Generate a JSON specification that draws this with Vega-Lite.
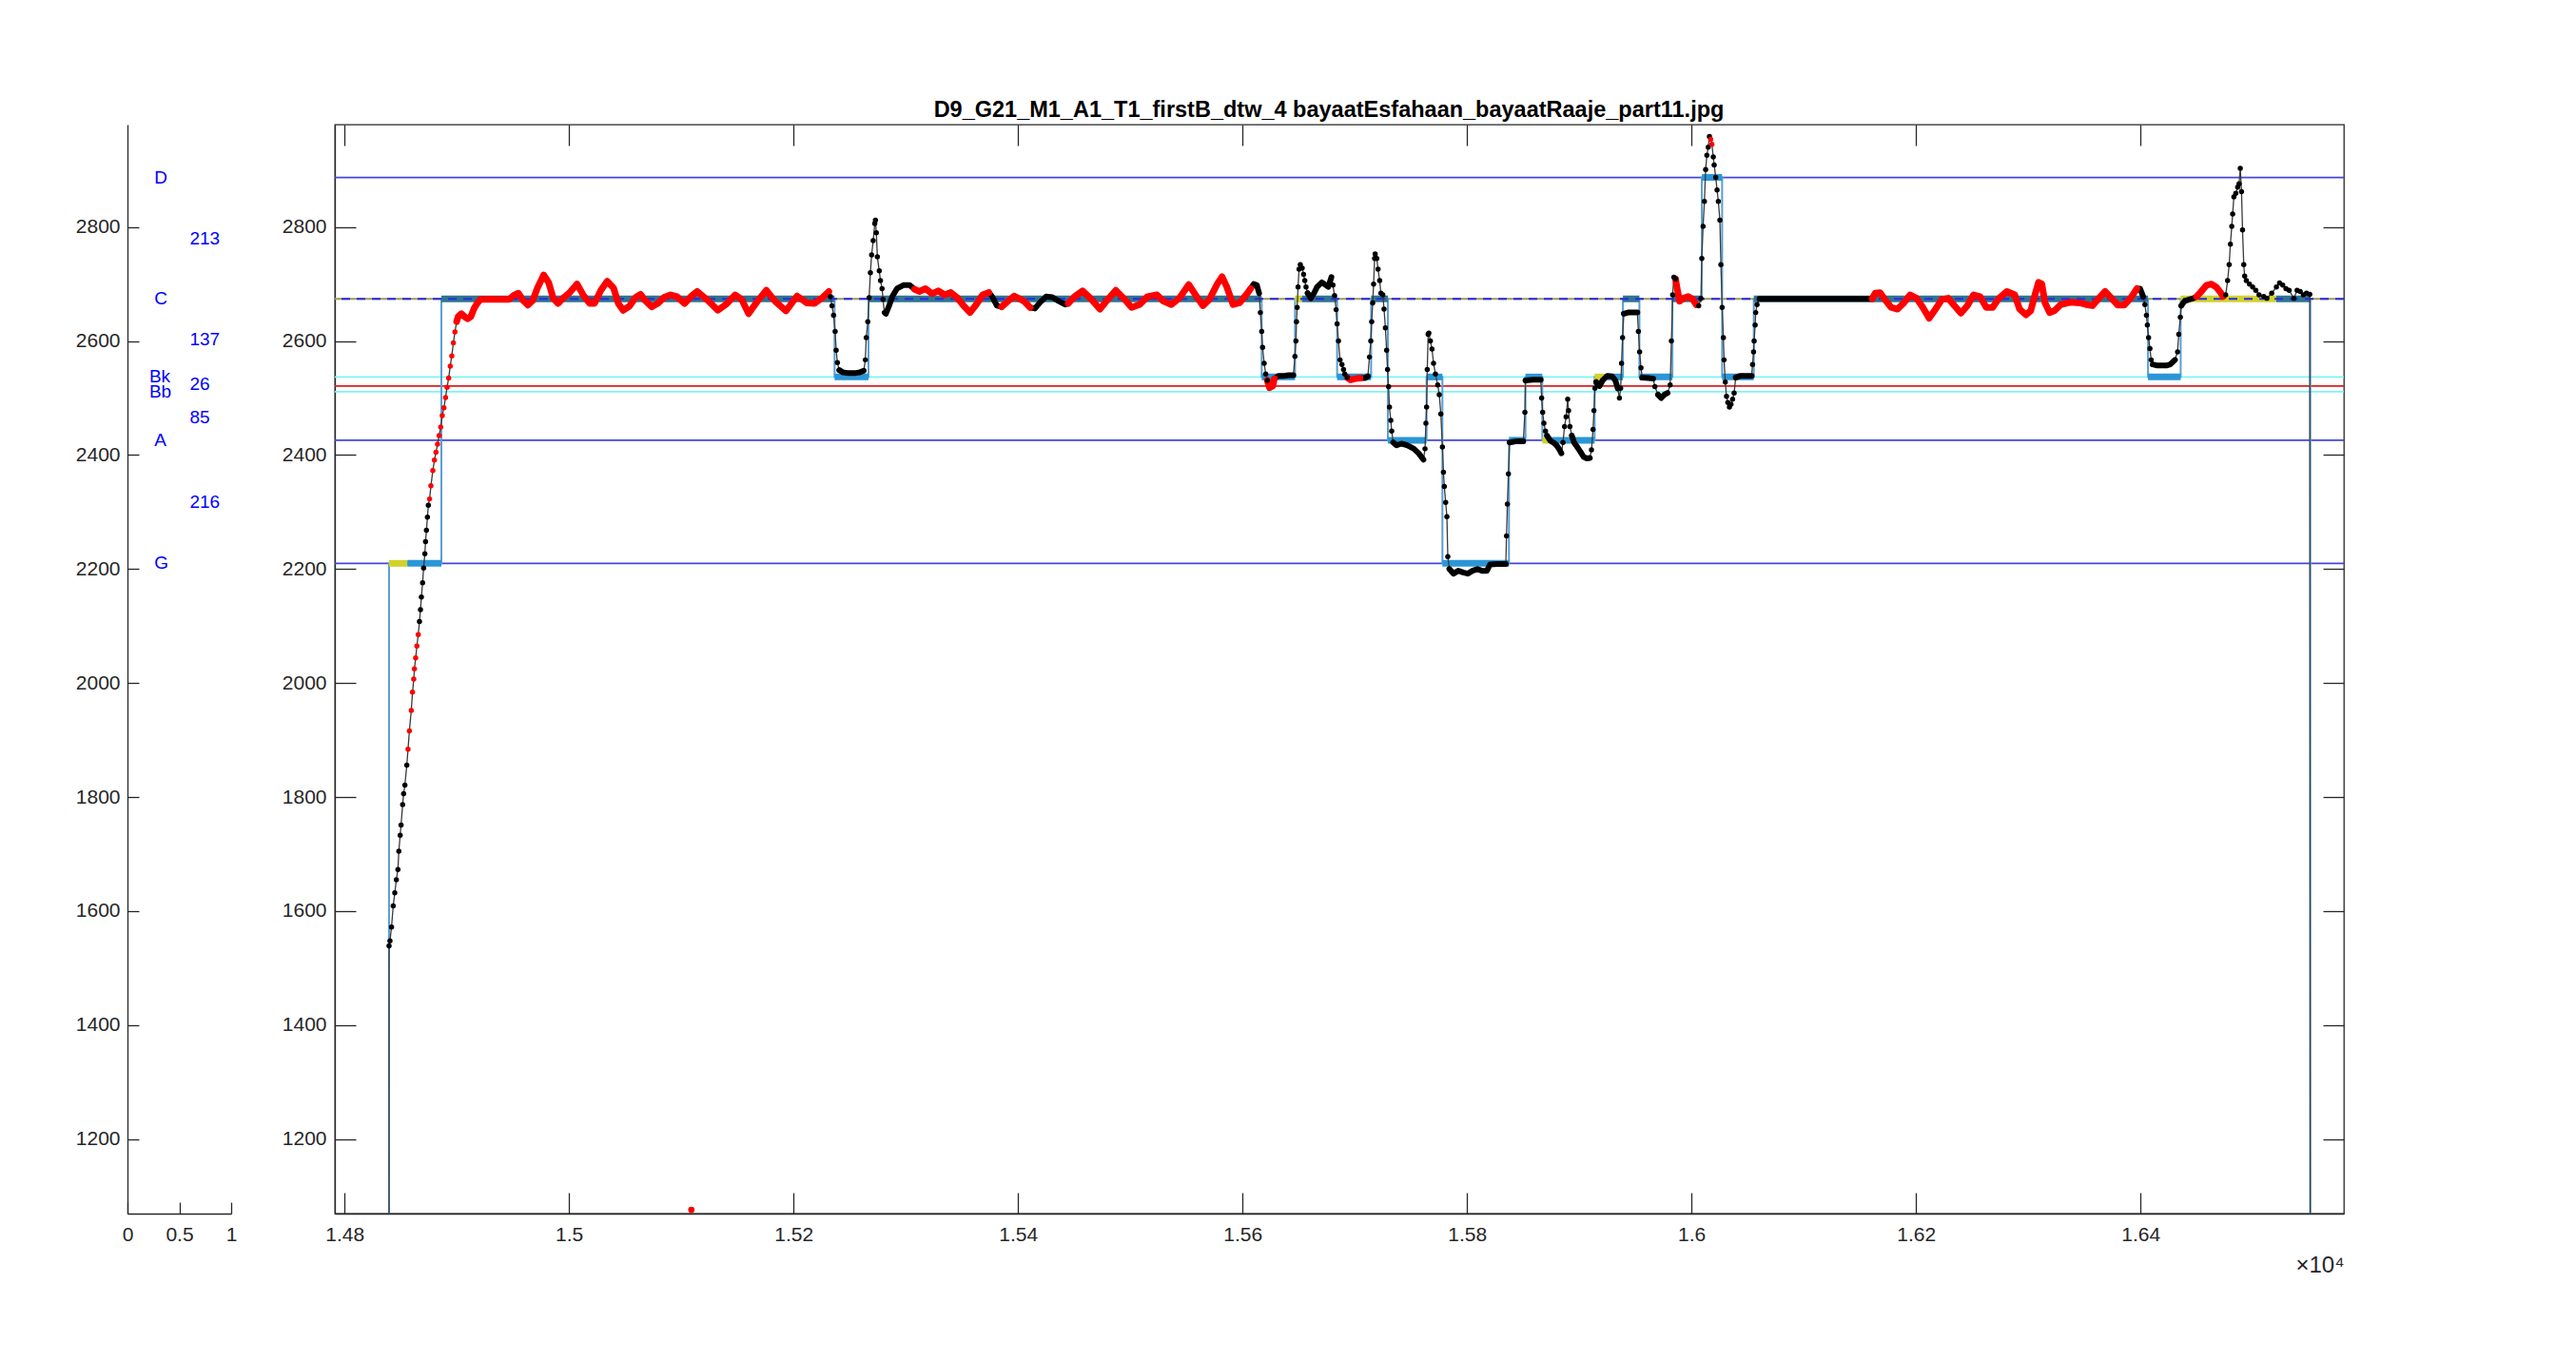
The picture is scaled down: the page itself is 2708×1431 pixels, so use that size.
{
"$schema":"https://vega.github.io/schema/vega-lite/v6.json",
"background":"white",
"padding":{"left":79,"top":103,"right":10,"bottom":10},
"config":{"font":"Liberation Sans","view":{"stroke":null},
"axis":{"labelFontSize":21,"labelColor":"#262626","labelFont":"Liberation Sans","domainColor":"#262626","tickColor":"#262626","domainWidth":1.3,"tickWidth":1.3,"grid":false,"titleFont":"Liberation Sans","titleFontWeight":"normal","titleColor":"#262626","labelFlush":false,"labelOverlap":false}},
"datasets":{
"labels":[{"x":0.26,"f":2887,"label":"D"},{"x":0.26,"f":2674,"label":"C"},{"x":0.21,"f":2537,"label":"Bk"},{"x":0.21,"f":2511,"label":"Bb"},{"x":0.26,"f":2426,"label":"A"},{"x":0.26,"f":2210,"label":"G"},{"x":0.6,"f":2779,"label":"213"},{"x":0.6,"f":2603,"label":"137"},{"x":0.6,"f":2524,"label":"26"},{"x":0.6,"f":2466,"label":"85"},{"x":0.6,"f":2317,"label":"216"}],
"levels":[{"f":2887,"kind":"note"},{"f":2426,"kind":"note"},{"f":2210,"kind":"note"},{"f":2537,"kind":"cyan"},{"f":2511,"kind":"cyan"},{"f":2521,"kind":"red"},{"f":2674,"kind":"olive"}],
"steps":[{"t":14839.6,"f":0},{"t":14839.7,"f":2210},{"t":14886.3,"f":2674},{"t":15236.6,"f":2537},{"t":15266.8,"f":2674},{"t":15617.1,"f":2537},{"t":15646.8,"f":2674},{"t":15684.3,"f":2537},{"t":15714.6,"f":2674},{"t":15729.5,"f":2426},{"t":15764.0,"f":2537},{"t":15778.1,"f":2210},{"t":15837.4,"f":2426},{"t":15852.1,"f":2537},{"t":15867.1,"f":2426},{"t":15913.7,"f":2537},{"t":15938.9,"f":2674},{"t":15953.6,"f":2537},{"t":15983.0,"f":2674},{"t":16009.2,"f":2887},{"t":16027.3,"f":2537},{"t":16055.5,"f":2674},{"t":16406.7,"f":2537},{"t":16435.8,"f":2674},{"t":16551.3,"f":0}],
"notes":[{"t":14839.7,"t2":14856,"f":2210,"kind":"y"},{"t":14856,"t2":14886.3,"f":2210,"kind":"b"},{"t":14886.3,"t2":15236.6,"f":2674,"kind":"c"},{"t":15236.6,"t2":15266.8,"f":2537,"kind":"b"},{"t":15266.8,"t2":15617.1,"f":2674,"kind":"c"},{"t":15617.1,"t2":15646.8,"f":2537,"kind":"b"},{"t":15646.8,"t2":15653,"f":2674,"kind":"y"},{"t":15653,"t2":15684.3,"f":2674,"kind":"c"},{"t":15684.3,"t2":15714.6,"f":2537,"kind":"b"},{"t":15714.6,"t2":15729.5,"f":2674,"kind":"c"},{"t":15729.5,"t2":15764.0,"f":2426,"kind":"b"},{"t":15764.0,"t2":15778.1,"f":2537,"kind":"b"},{"t":15778.1,"t2":15837.4,"f":2210,"kind":"b"},{"t":15837.4,"t2":15852.1,"f":2426,"kind":"b"},{"t":15852.1,"t2":15867.1,"f":2537,"kind":"b"},{"t":15867.1,"t2":15874,"f":2426,"kind":"y"},{"t":15874,"t2":15913.7,"f":2426,"kind":"b"},{"t":15913.7,"t2":15925,"f":2537,"kind":"y"},{"t":15925,"t2":15938.9,"f":2537,"kind":"b"},{"t":15938.9,"t2":15953.6,"f":2674,"kind":"c"},{"t":15953.6,"t2":15983.0,"f":2537,"kind":"b"},{"t":15983.0,"t2":16009.2,"f":2674,"kind":"c"},{"t":16009.2,"t2":16027.3,"f":2887,"kind":"b"},{"t":16027.3,"t2":16055.5,"f":2537,"kind":"b"},{"t":16055.5,"t2":16406.7,"f":2674,"kind":"c"},{"t":16406.7,"t2":16435.8,"f":2537,"kind":"b"},{"t":16435.8,"t2":16521,"f":2674,"kind":"y"},{"t":16521,"t2":16551.3,"f":2674,"kind":"c"}],
"pitch":[
{"t":14839.6,"f":0,"c":"x"},
{"t":14839.7,"f":1539,"c":"k"},{"t":14840.5,"f":1548,"c":"k"},{"t":14841.9,"f":1572,"c":"k"},{"t":14843.4,"f":1609,"c":"k"},{"t":14844.8,"f":1632,"c":"k"},{"t":14846.2,"f":1655,"c":"k"},{"t":14847.6,"f":1673,"c":"k"},{"t":14848.4,"f":1705,"c":"k"},{"t":14849.6,"f":1733,"c":"k"},{"t":14850.4,"f":1751,"c":"k"},{"t":14851.8,"f":1787,"c":"k"},{"t":14852.7,"f":1806,"c":"k"},{"t":14853.8,"f":1821,"c":"k"},{"t":14855.5,"f":1856,"c":"k"},
{"t":14856.6,"f":1884,"c":"r"},{"t":14857.8,"f":1916,"c":"r"},{"t":14859.5,"f":1952,"c":"r"},{"t":14860.6,"f":1984,"c":"r"},{"t":14861.7,"f":2007,"c":"r"},{"t":14862.3,"f":2025,"c":"r"},{"t":14863.4,"f":2044,"c":"r"},{"t":14864.5,"f":2065,"c":"r"},{"t":14865.7,"f":2085,"c":"r"},
{"t":14866.8,"f":2108,"c":"k"},{"t":14867.7,"f":2129,"c":"k"},{"t":14868.5,"f":2151,"c":"k"},{"t":14869.6,"f":2176,"c":"k"},{"t":14870.5,"f":2202,"c":"k"},{"t":14871.6,"f":2227,"c":"k"},{"t":14872.2,"f":2248,"c":"k"},{"t":14873.0,"f":2268,"c":"k"},{"t":14873.9,"f":2291,"c":"k"},{"t":14874.7,"f":2312,"c":"k"},
{"t":14875.8,"f":2323,"c":"r"},{"t":14877.0,"f":2346,"c":"r"},{"t":14878.7,"f":2373,"c":"r"},{"t":14880.1,"f":2391,"c":"r"},{"t":14881.5,"f":2405,"c":"r"},{"t":14882.9,"f":2419,"c":"r"},{"t":14884.3,"f":2434,"c":"r"},{"t":14885.7,"f":2449,"c":"r"},{"t":14887.1,"f":2469,"c":"r"},{"t":14888.6,"f":2483,"c":"r"},{"t":14890.0,"f":2501,"c":"r"},{"t":14891.4,"f":2519,"c":"r"},{"t":14892.8,"f":2535,"c":"r"},{"t":14894.2,"f":2556,"c":"r"},{"t":14895.6,"f":2574,"c":"r"},{"t":14897.0,"f":2597,"c":"r"},{"t":14898.4,"f":2616,"c":"r"},
{"t":14899.9,"f":2634,"c":"v","s":1},{"t":14901.3,"f":2643,"c":"v","s":1},{"t":14904.1,"f":2648,"c":"v","s":1},{"t":14906.9,"f":2643,"c":"v","s":1},{"t":14909.7,"f":2639,"c":"v","s":1},{"t":14912.6,"f":2643,"c":"v","s":1},{"t":14915.4,"f":2657,"c":"v","s":1},{"t":14918.2,"f":2666,"c":"v","s":1},{"t":14921.0,"f":2673,"c":"v","s":1},{"t":14934.0,"f":2673,"c":"v","s":1},{"t":14946.5,"f":2673,"c":"v","s":1},{"t":14950.7,"f":2680,"c":"v","s":1},{"t":14954.9,"f":2684,"c":"v","s":1},{"t":14959.2,"f":2671,"c":"v","s":1},{"t":14963.4,"f":2663,"c":"v","s":1},{"t":14967.7,"f":2671,"c":"v","s":1},{"t":14971.9,"f":2693,"c":"v","s":1},{"t":14977.5,"f":2716,"c":"v","s":1},{"t":14981.8,"f":2703,"c":"v","s":1},{"t":14986.0,"f":2675,"c":"v","s":1},{"t":14990.3,"f":2666,"c":"v","s":1},{"t":14994.5,"f":2675,"c":"v","s":1},{"t":15000.1,"f":2684,"c":"v","s":1},{"t":15007.2,"f":2700,"c":"v","s":1},{"t":15012.9,"f":2680,"c":"v","s":1},{"t":15018.5,"f":2666,"c":"v","s":1},{"t":15022.7,"f":2666,"c":"v","s":1},{"t":15028.4,"f":2689,"c":"v","s":1},{"t":15034.0,"f":2705,"c":"v","s":1},{"t":15039.7,"f":2693,"c":"v","s":1},{"t":15043.9,"f":2666,"c":"v","s":1},{"t":15048.2,"f":2654,"c":"v","s":1},{"t":15053.8,"f":2661,"c":"v","s":1},{"t":15059.5,"f":2677,"c":"v","s":1},{"t":15063.7,"f":2682,"c":"v","s":1},{"t":15067.9,"f":2671,"c":"v","s":1},{"t":15073.6,"f":2660,"c":"v","s":1},{"t":15079.2,"f":2666,"c":"v","s":1},{"t":15084.9,"f":2677,"c":"v","s":1},{"t":15090.5,"f":2681,"c":"v","s":1},{"t":15096.2,"f":2678,"c":"v","s":1},{"t":15103.0,"f":2666,"c":"v","s":1},{"t":15108.6,"f":2678,"c":"v","s":1},{"t":15114.2,"f":2687,"c":"v","s":1},{"t":15122.7,"f":2673,"c":"v","s":1},{"t":15132.6,"f":2654,"c":"v","s":1},{"t":15139.7,"f":2664,"c":"v","s":1},{"t":15148.1,"f":2681,"c":"v","s":1},{"t":15153.8,"f":2673,"c":"v","s":1},{"t":15160.0,"f":2648,"c":"v","s":1},{"t":15167.9,"f":2670,"c":"v","s":1},{"t":15175.8,"f":2689,"c":"v","s":1},{"t":15183.5,"f":2670,"c":"v","s":1},{"t":15193.3,"f":2653,"c":"v","s":1},{"t":15203.2,"f":2679,"c":"v","s":1},{"t":15211.7,"f":2667,"c":"v","s":1},{"t":15218.8,"f":2666,"c":"v","s":1},{"t":15225.8,"f":2676,"c":"v","s":1},{"t":15231.5,"f":2687,"c":"v","s":1},
{"t":15232.9,"f":2678,"c":"k"},{"t":15234.3,"f":2662,"c":"k"},{"t":15235.7,"f":2645,"c":"k"},{"t":15237.1,"f":2617,"c":"k"},{"t":15238.0,"f":2584,"c":"k"},{"t":15239.1,"f":2562,"c":"k"},{"t":15240.8,"f":2549,"c":"k"},
{"t":15240.8,"f":2549,"c":"b","s":2},{"t":15244.2,"f":2545,"c":"b","s":2},{"t":15248.0,"f":2544,"c":"b","s":2},{"t":15252.0,"f":2544,"c":"b","s":2},{"t":15255.5,"f":2544,"c":"b","s":2},{"t":15259.0,"f":2545,"c":"b","s":2},{"t":15262.6,"f":2548,"c":"b","s":2},
{"t":15264.0,"f":2567,"c":"k"},{"t":15264.8,"f":2606,"c":"k"},{"t":15266.2,"f":2634,"c":"k"},{"t":15267.4,"f":2676,"c":"k"},{"t":15268.5,"f":2720,"c":"k"},{"t":15269.6,"f":2751,"c":"k"},{"t":15271.0,"f":2776,"c":"k"},{"t":15272.4,"f":2806,"c":"k"},{"t":15273.0,"f":2812,"c":"k"},{"t":15273.8,"f":2790,"c":"k"},{"t":15274.7,"f":2748,"c":"k"},{"t":15276.4,"f":2723,"c":"k"},{"t":15277.5,"f":2706,"c":"k"},{"t":15278.9,"f":2692,"c":"k"},{"t":15279.8,"f":2673,"c":"k"},{"t":15280.9,"f":2650,"c":"k"},{"t":15282.3,"f":2648,"c":"k"},
{"t":15282.3,"f":2648,"c":"b","s":3},{"t":15285.2,"f":2662,"c":"b","s":3},{"t":15288.0,"f":2678,"c":"b","s":3},{"t":15292.2,"f":2692,"c":"b","s":3},{"t":15297.9,"f":2698,"c":"b","s":3},{"t":15303.5,"f":2698,"c":"b","s":3},{"t":15307.8,"f":2691,"c":"b","s":3},
{"t":15307.8,"f":2691,"c":"v","s":4},{"t":15312.0,"f":2687,"c":"v","s":4},{"t":15317.6,"f":2692,"c":"v","s":4},{"t":15323.3,"f":2683,"c":"v","s":4},{"t":15328.9,"f":2688,"c":"v","s":4},{"t":15334.6,"f":2681,"c":"v","s":4},{"t":15340.2,"f":2685,"c":"v","s":4},{"t":15345.9,"f":2676,"c":"v","s":4},{"t":15351.5,"f":2662,"c":"v","s":4},{"t":15357.2,"f":2650,"c":"v","s":4},{"t":15362.8,"f":2664,"c":"v","s":4},{"t":15368.5,"f":2681,"c":"v","s":4},{"t":15374.1,"f":2685,"c":"v","s":4},
{"t":15374.1,"f":2685,"c":"b","s":5},{"t":15377.0,"f":2678,"c":"b","s":5},{"t":15381.2,"f":2662,"c":"b","s":5},{"t":15385.4,"f":2660,"c":"b","s":5},
{"t":15385.4,"f":2660,"c":"v","s":6},{"t":15391.1,"f":2670,"c":"v","s":6},{"t":15396.7,"f":2679,"c":"v","s":6},{"t":15405.2,"f":2670,"c":"v","s":6},{"t":15410.8,"f":2659,"c":"v","s":6},
{"t":15410.8,"f":2659,"c":"b","s":7},{"t":15415.1,"f":2657,"c":"b","s":7},{"t":15419.3,"f":2667,"c":"b","s":7},{"t":15425.0,"f":2678,"c":"b","s":7},{"t":15430.6,"f":2677,"c":"b","s":7},{"t":15436.3,"f":2670,"c":"b","s":7},{"t":15441.9,"f":2664,"c":"b","s":7},{"t":15444.7,"f":2666,"c":"b","s":7},
{"t":15444.7,"f":2666,"c":"v","s":8},{"t":15450.4,"f":2678,"c":"v","s":8},{"t":15457.5,"f":2688,"c":"v","s":8},{"t":15464.5,"f":2675,"c":"v","s":8},{"t":15473.0,"f":2656,"c":"v","s":8},{"t":15480.1,"f":2673,"c":"v","s":8},{"t":15487.1,"f":2689,"c":"v","s":8},{"t":15494.2,"f":2675,"c":"v","s":8},{"t":15501.2,"f":2659,"c":"v","s":8},{"t":15508.3,"f":2664,"c":"v","s":8},{"t":15515.4,"f":2678,"c":"v","s":8},{"t":15523.8,"f":2681,"c":"v","s":8},{"t":15529.5,"f":2670,"c":"v","s":8},{"t":15536.6,"f":2664,"c":"v","s":8},{"t":15543.6,"f":2675,"c":"v","s":8},{"t":15552.1,"f":2699,"c":"v","s":8},{"t":15559.2,"f":2678,"c":"v","s":8},{"t":15564.8,"f":2662,"c":"v","s":8},{"t":15570.5,"f":2673,"c":"v","s":8},{"t":15577.5,"f":2700,"c":"v","s":8},{"t":15581.8,"f":2713,"c":"v","s":8},{"t":15586.0,"f":2695,"c":"v","s":8},{"t":15591.6,"f":2664,"c":"v","s":8},{"t":15597.3,"f":2667,"c":"v","s":8},{"t":15604.4,"f":2684,"c":"v","s":8},{"t":15607.2,"f":2692,"c":"v","s":8},
{"t":15607.2,"f":2692,"c":"b","s":9},{"t":15610.0,"f":2700,"c":"b","s":9},{"t":15612.8,"f":2698,"c":"b","s":9},{"t":15614.8,"f":2684,"c":"b","s":9},
{"t":15615.9,"f":2650,"c":"k"},{"t":15617.1,"f":2617,"c":"k"},{"t":15617.9,"f":2589,"c":"k"},{"t":15619.3,"f":2561,"c":"k"},{"t":15620.7,"f":2542,"c":"k"},{"t":15622.1,"f":2531,"c":"k"},
{"t":15622.1,"f":2531,"c":"v","s":10},{"t":15624.1,"f":2518,"c":"v","s":10},{"t":15626.9,"f":2521,"c":"v","s":10},{"t":15628.4,"f":2534,"c":"v","s":10},
{"t":15628.4,"f":2534,"c":"b","s":11},{"t":15632.0,"f":2539,"c":"b","s":11},{"t":15636.8,"f":2539,"c":"b","s":11},{"t":15641.0,"f":2540,"c":"b","s":11},{"t":15645.3,"f":2540,"c":"b","s":11},
{"t":15646.7,"f":2573,"c":"k"},{"t":15647.6,"f":2600,"c":"k"},{"t":15648.1,"f":2634,"c":"k"},{"t":15648.7,"f":2659,"c":"k"},{"t":15649.5,"f":2695,"c":"k"},{"t":15650.4,"f":2726,"c":"k"},{"t":15651.5,"f":2734,"c":"k"},{"t":15653.2,"f":2728,"c":"k"},{"t":15654.4,"f":2717,"c":"k"},{"t":15655.5,"f":2706,"c":"k"},{"t":15656.6,"f":2695,"c":"k"},{"t":15658.0,"f":2684,"c":"k"},
{"t":15658.0,"f":2684,"c":"b","s":12},{"t":15660.9,"f":2675,"c":"b","s":12},{"t":15663.7,"f":2684,"c":"b","s":12},{"t":15666.5,"f":2695,"c":"b","s":12},{"t":15670.7,"f":2703,"c":"b","s":12},{"t":15676.4,"f":2695,"c":"b","s":12},{"t":15679.2,"f":2712,"c":"b","s":12},
{"t":15680.6,"f":2698,"c":"k"},{"t":15682.0,"f":2680,"c":"k"},{"t":15683.4,"f":2655,"c":"k"},{"t":15684.3,"f":2630,"c":"k"},{"t":15685.5,"f":2600,"c":"k"},{"t":15686.9,"f":2567,"c":"k"},{"t":15688.6,"f":2559,"c":"k"},{"t":15690.0,"f":2550,"c":"k"},{"t":15691.1,"f":2542,"c":"k"},{"t":15693.4,"f":2536,"c":"k"},
{"t":15693.4,"f":2536,"c":"v","s":13},{"t":15696.2,"f":2532,"c":"v","s":13},{"t":15700.4,"f":2534,"c":"v","s":13},{"t":15704.7,"f":2535,"c":"v","s":13},
{"t":15704.7,"f":2535,"c":"b","s":14},{"t":15708.9,"f":2535,"c":"b","s":14},{"t":15711.7,"f":2538,"c":"b","s":14},
{"t":15713.1,"f":2572,"c":"k"},{"t":15714.3,"f":2600,"c":"k"},{"t":15715.1,"f":2634,"c":"k"},{"t":15716.0,"f":2667,"c":"k"},{"t":15716.8,"f":2700,"c":"k"},{"t":15717.7,"f":2745,"c":"k"},{"t":15718.2,"f":2753,"c":"k"},{"t":15719.6,"f":2745,"c":"k"},{"t":15720.8,"f":2726,"c":"k"},{"t":15722.2,"f":2706,"c":"k"},{"t":15723.3,"f":2684,"c":"k"},{"t":15725.0,"f":2681,"c":"k"},{"t":15726.1,"f":2656,"c":"k"},{"t":15727.3,"f":2623,"c":"k"},{"t":15728.4,"f":2584,"c":"k"},{"t":15729.2,"f":2550,"c":"k"},{"t":15730.1,"f":2520,"c":"k"},{"t":15730.9,"f":2484,"c":"k"},{"t":15732.1,"f":2461,"c":"k"},{"t":15732.9,"f":2442,"c":"k"},{"t":15734.3,"f":2422,"c":"k"},
{"t":15734.3,"f":2422,"c":"b","s":15},{"t":15737.2,"f":2417,"c":"b","s":15},{"t":15741.4,"f":2420,"c":"b","s":15},{"t":15747.1,"f":2417,"c":"b","s":15},{"t":15752.7,"f":2411,"c":"b","s":15},{"t":15757.0,"f":2403,"c":"b","s":15},{"t":15761.2,"f":2392,"c":"b","s":15},
{"t":15762.6,"f":2411,"c":"k"},{"t":15763.4,"f":2456,"c":"k"},{"t":15764.0,"f":2484,"c":"k"},{"t":15764.6,"f":2550,"c":"k"},{"t":15765.4,"f":2612,"c":"k"},{"t":15766.0,"f":2614,"c":"k"},{"t":15767.4,"f":2600,"c":"k"},{"t":15768.8,"f":2586,"c":"k"},{"t":15770.2,"f":2561,"c":"k"},{"t":15771.9,"f":2542,"c":"k"},{"t":15773.9,"f":2523,"c":"k"},{"t":15775.3,"f":2506,"c":"k"},{"t":15776.7,"f":2472,"c":"k"},{"t":15778.1,"f":2414,"c":"k"},{"t":15779.0,"f":2370,"c":"k"},{"t":15779.8,"f":2345,"c":"k"},{"t":15781.0,"f":2317,"c":"k"},{"t":15782.1,"f":2292,"c":"k"},{"t":15782.9,"f":2222,"c":"k"},{"t":15784.3,"f":2200,"c":"k"},
{"t":15784.3,"f":2200,"c":"b","s":16},{"t":15788.0,"f":2192,"c":"b","s":16},{"t":15792.2,"f":2197,"c":"b","s":16},{"t":15796.5,"f":2194,"c":"b","s":16},{"t":15800.7,"f":2192,"c":"b","s":16},{"t":15804.9,"f":2197,"c":"b","s":16},{"t":15809.2,"f":2200,"c":"b","s":16},{"t":15813.4,"f":2197,"c":"b","s":16},{"t":15817.7,"f":2197,"c":"b","s":16},{"t":15820.5,"f":2208,"c":"b","s":16},{"t":15827.0,"f":2209,"c":"b","s":16},{"t":15834.6,"f":2209,"c":"b","s":16},
{"t":15835.2,"f":2258,"c":"k"},{"t":15836.0,"f":2314,"c":"k"},{"t":15836.9,"f":2367,"c":"k"},{"t":15838.0,"f":2422,"c":"k"},
{"t":15838.0,"f":2422,"c":"b","s":17},{"t":15843.1,"f":2424,"c":"b","s":17},{"t":15850.2,"f":2424,"c":"b","s":17},
{"t":15851.6,"f":2475,"c":"k"},{"t":15852.1,"f":2531,"c":"k"},
{"t":15852.1,"f":2531,"c":"b","s":18},{"t":15858.6,"f":2532,"c":"b","s":18},{"t":15865.7,"f":2532,"c":"b","s":18},
{"t":15866.5,"f":2500,"c":"k"},{"t":15867.4,"f":2475,"c":"k"},{"t":15868.5,"f":2456,"c":"k"},{"t":15869.9,"f":2442,"c":"k"},{"t":15871.3,"f":2434,"c":"k"},
{"t":15871.3,"f":2434,"c":"b","s":19},{"t":15874.2,"f":2425,"c":"b","s":19},{"t":15877.0,"f":2422,"c":"b","s":19},{"t":15879.8,"f":2417,"c":"b","s":19},{"t":15882.6,"f":2409,"c":"b","s":19},{"t":15884.1,"f":2403,"c":"b","s":19},
{"t":15885.5,"f":2422,"c":"k"},{"t":15886.9,"f":2450,"c":"k"},{"t":15888.3,"f":2467,"c":"k"},{"t":15889.7,"f":2498,"c":"k"},{"t":15890.5,"f":2478,"c":"k"},{"t":15891.7,"f":2450,"c":"k"},{"t":15893.4,"f":2434,"c":"k"},
{"t":15893.4,"f":2434,"c":"b","s":20},{"t":15895.4,"f":2422,"c":"b","s":20},{"t":15898.2,"f":2414,"c":"b","s":20},{"t":15901.0,"f":2406,"c":"b","s":20},{"t":15903.8,"f":2397,"c":"b","s":20},{"t":15906.7,"f":2394,"c":"b","s":20},{"t":15909.5,"f":2395,"c":"b","s":20},
{"t":15910.9,"f":2409,"c":"k"},{"t":15912.3,"f":2445,"c":"k"},{"t":15913.1,"f":2478,"c":"k"},{"t":15914.0,"f":2517,"c":"k"},{"t":15915.1,"f":2528,"c":"k"},
{"t":15915.1,"f":2528,"c":"b","s":21},{"t":15918.0,"f":2521,"c":"b","s":21},{"t":15920.8,"f":2531,"c":"b","s":21},{"t":15925.0,"f":2539,"c":"b","s":21},{"t":15929.3,"f":2538,"c":"b","s":21},{"t":15932.1,"f":2531,"c":"b","s":21},{"t":15934.3,"f":2517,"c":"b","s":21},
{"t":15935.8,"f":2500,"c":"k"},{"t":15936.9,"f":2517,"c":"k"},{"t":15937.7,"f":2561,"c":"k"},{"t":15938.6,"f":2606,"c":"k"},{"t":15939.7,"f":2648,"c":"k"},
{"t":15939.7,"f":2648,"c":"b","s":22},{"t":15943.4,"f":2650,"c":"b","s":22},{"t":15947.6,"f":2650,"c":"b","s":22},{"t":15951.8,"f":2650,"c":"b","s":22},
{"t":15952.7,"f":2617,"c":"k"},{"t":15953.8,"f":2581,"c":"k"},{"t":15955.0,"f":2553,"c":"k"},{"t":15956.1,"f":2536,"c":"k"},
{"t":15956.1,"f":2536,"c":"b","s":23},{"t":15961.7,"f":2535,"c":"b","s":23},{"t":15965.9,"f":2534,"c":"b","s":23},
{"t":15967.4,"f":2520,"c":"k"},{"t":15970.2,"f":2506,"c":"k"},
{"t":15970.2,"f":2506,"c":"b","s":24},{"t":15973.0,"f":2500,"c":"b","s":24},{"t":15975.9,"f":2506,"c":"b","s":24},{"t":15978.7,"f":2509,"c":"b","s":24},
{"t":15981.0,"f":2523,"c":"k"},{"t":15982.1,"f":2600,"c":"k"},{"t":15983.2,"f":2681,"c":"k"},{"t":15984.3,"f":2712,"c":"k"},{"t":15985.8,"f":2709,"c":"k"},
{"t":15985.8,"f":2709,"c":"v","s":25},{"t":15987.2,"f":2692,"c":"v","s":25},{"t":15989.4,"f":2670,"c":"v","s":25},{"t":15992.8,"f":2675,"c":"v","s":25},{"t":15997.1,"f":2678,"c":"v","s":25},{"t":16001.3,"f":2673,"c":"v","s":25},{"t":16004.1,"f":2664,"c":"v","s":25},
{"t":16006.4,"f":2662,"c":"k"},{"t":16008.4,"f":2675,"c":"k"},{"t":16009.2,"f":2745,"c":"k"},{"t":16010.3,"f":2801,"c":"k"},{"t":16011.5,"f":2845,"c":"k"},{"t":16012.6,"f":2901,"c":"k"},{"t":16013.7,"f":2926,"c":"k"},{"t":16014.9,"f":2940,"c":"k"},{"t":16016.0,"f":2959,"c":"k"},
{"t":16017.1,"f":2954,"c":"r"},{"t":16018.2,"f":2945,"c":"r"},
{"t":16019.4,"f":2923,"c":"k"},{"t":16020.2,"f":2909,"c":"k"},{"t":16021.6,"f":2887,"c":"k"},{"t":16022.8,"f":2865,"c":"k"},{"t":16023.9,"f":2845,"c":"k"},{"t":16025.3,"f":2812,"c":"k"},{"t":16026.2,"f":2734,"c":"k"},{"t":16027.3,"f":2659,"c":"k"},{"t":16028.4,"f":2606,"c":"k"},{"t":16029.0,"f":2567,"c":"k"},{"t":16030.1,"f":2528,"c":"k"},{"t":16031.2,"f":2503,"c":"k"},{"t":16032.4,"f":2492,"c":"k"},{"t":16033.8,"f":2484,"c":"k"},{"t":16035.2,"f":2489,"c":"k"},{"t":16036.6,"f":2498,"c":"k"},{"t":16038.0,"f":2509,"c":"k"},{"t":16039.4,"f":2536,"c":"k"},
{"t":16039.4,"f":2536,"c":"b","s":26},{"t":16043.7,"f":2539,"c":"b","s":26},{"t":16049.3,"f":2539,"c":"b","s":26},{"t":16053.6,"f":2539,"c":"b","s":26},
{"t":16054.4,"f":2559,"c":"k"},{"t":16055.3,"f":2581,"c":"k"},{"t":16055.8,"f":2600,"c":"k"},{"t":16056.7,"f":2628,"c":"k"},{"t":16057.2,"f":2650,"c":"k"},{"t":16058.4,"f":2664,"c":"k"},{"t":16060.6,"f":2674,"c":"k"},
{"t":16060.6,"f":2674,"c":"b","s":27},{"t":16110.0,"f":2674,"c":"b","s":27},{"t":16160.9,"f":2674,"c":"b","s":27},
{"t":16160.9,"f":2674,"c":"v","s":28},{"t":16163.7,"f":2684,"c":"v","s":28},{"t":16168.0,"f":2685,"c":"v","s":28},{"t":16172.2,"f":2673,"c":"v","s":28},{"t":16177.9,"f":2659,"c":"v","s":28},{"t":16183.5,"f":2656,"c":"v","s":28},{"t":16189.2,"f":2667,"c":"v","s":28},{"t":16194.8,"f":2681,"c":"v","s":28},{"t":16200.5,"f":2675,"c":"v","s":28},{"t":16206.1,"f":2659,"c":"v","s":28},{"t":16211.7,"f":2640,"c":"v","s":28},{"t":16217.4,"f":2656,"c":"v","s":28},{"t":16223.0,"f":2673,"c":"v","s":28},{"t":16228.7,"f":2675,"c":"v","s":28},{"t":16234.3,"f":2662,"c":"v","s":28},{"t":16240.0,"f":2649,"c":"v","s":28},{"t":16245.7,"f":2662,"c":"v","s":28},{"t":16251.3,"f":2681,"c":"v","s":28},{"t":16257.0,"f":2678,"c":"v","s":28},{"t":16262.6,"f":2659,"c":"v","s":28},{"t":16268.3,"f":2659,"c":"v","s":28},{"t":16273.9,"f":2675,"c":"v","s":28},{"t":16281.0,"f":2687,"c":"v","s":28},{"t":16288.0,"f":2681,"c":"v","s":28},{"t":16292.3,"f":2656,"c":"v","s":28},{"t":16297.9,"f":2646,"c":"v","s":28},{"t":16302.2,"f":2653,"c":"v","s":28},{"t":16306.4,"f":2684,"c":"v","s":28},{"t":16309.2,"f":2703,"c":"v","s":28},{"t":16312.1,"f":2700,"c":"v","s":28},{"t":16314.9,"f":2667,"c":"v","s":28},{"t":16319.1,"f":2650,"c":"v","s":28},{"t":16323.3,"f":2653,"c":"v","s":28},{"t":16329.0,"f":2664,"c":"v","s":28},{"t":16337.5,"f":2668,"c":"v","s":28},{"t":16345.9,"f":2667,"c":"v","s":28},{"t":16351.6,"f":2664,"c":"v","s":28},{"t":16357.2,"f":2662,"c":"v","s":28},{"t":16362.9,"f":2675,"c":"v","s":28},{"t":16368.5,"f":2687,"c":"v","s":28},{"t":16374.2,"f":2675,"c":"v","s":28},{"t":16379.8,"f":2663,"c":"v","s":28},{"t":16385.5,"f":2663,"c":"v","s":28},{"t":16391.1,"f":2675,"c":"v","s":28},{"t":16396.8,"f":2692,"c":"v","s":28},
{"t":16396.8,"f":2692,"c":"b","s":29},{"t":16399.6,"f":2692,"c":"b","s":29},{"t":16402.4,"f":2678,"c":"b","s":29},
{"t":16403.9,"f":2664,"c":"k"},{"t":16405.3,"f":2645,"c":"k"},{"t":16406.1,"f":2628,"c":"k"},{"t":16407.2,"f":2606,"c":"k"},{"t":16408.4,"f":2587,"c":"k"},{"t":16409.5,"f":2567,"c":"k"},{"t":16410.9,"f":2559,"c":"k"},
{"t":16410.9,"f":2559,"c":"b","s":30},{"t":16415.0,"f":2557,"c":"b","s":30},{"t":16419.4,"f":2557,"c":"b","s":30},{"t":16423.0,"f":2557,"c":"b","s":30},{"t":16426.5,"f":2559,"c":"b","s":30},{"t":16430.7,"f":2567,"c":"b","s":30},
{"t":16433.0,"f":2581,"c":"k"},{"t":16434.1,"f":2612,"c":"k"},{"t":16435.5,"f":2642,"c":"k"},{"t":16436.3,"f":2662,"c":"k"},
{"t":16436.3,"f":2662,"c":"b","s":31},{"t":16439.2,"f":2670,"c":"b","s":31},{"t":16443.4,"f":2673,"c":"b","s":31},{"t":16447.1,"f":2675,"c":"b","s":31},{"t":16449.9,"f":2678,"c":"b","s":31},
{"t":16449.9,"f":2678,"c":"v","s":32},{"t":16453.3,"f":2685,"c":"v","s":32},{"t":16458.9,"f":2698,"c":"v","s":32},{"t":16463.2,"f":2700,"c":"v","s":32},{"t":16467.4,"f":2695,"c":"v","s":32},{"t":16471.7,"f":2684,"c":"v","s":32},{"t":16473.6,"f":2678,"c":"v","s":32},
{"t":16475.9,"f":2681,"c":"k"},{"t":16477.6,"f":2706,"c":"k"},{"t":16479.0,"f":2734,"c":"k"},{"t":16480.1,"f":2770,"c":"k"},{"t":16481.3,"f":2801,"c":"k"},{"t":16482.1,"f":2823,"c":"k"},{"t":16483.2,"f":2853,"c":"k"},{"t":16484.9,"f":2859,"c":"k"},{"t":16486.6,"f":2870,"c":"k"},{"t":16487.8,"f":2876,"c":"k"},{"t":16488.9,"f":2903,"c":"k"},{"t":16490.0,"f":2862,"c":"k"},{"t":16490.9,"f":2795,"c":"k"},{"t":16492.0,"f":2734,"c":"k"},{"t":16492.8,"f":2714,"c":"k"},{"t":16494.3,"f":2706,"c":"k"},{"t":16497.1,"f":2700,"c":"k"},{"t":16499.9,"f":2695,"c":"k"},{"t":16502.7,"f":2689,"c":"k"},{"t":16505.6,"f":2681,"c":"k"},{"t":16509.8,"f":2678,"c":"k"},{"t":16512.6,"f":2675,"c":"k"},{"t":16516.9,"f":2684,"c":"k"},{"t":16521.1,"f":2695,"c":"k"},{"t":16523.9,"f":2702,"c":"k"},{"t":16526.7,"f":2698,"c":"k"},{"t":16529.6,"f":2692,"c":"k"},{"t":16532.4,"f":2689,"c":"k"},{"t":16536.6,"f":2675,"c":"k"},{"t":16539.5,"f":2689,"c":"k"},{"t":16542.3,"f":2687,"c":"k"},{"t":16545.1,"f":2681,"c":"k"},{"t":16547.9,"f":2684,"c":"k"},{"t":16550.8,"f":2682,"c":"k"},
{"t":16551.4,"f":0,"c":"x"}
]
},
"spacing":109,
"bounds":"flush",
"hconcat":[
{
"width":109,"height":1145,
"view":{"stroke":null},
"data":{"name":"labels"},
"mark":{"type":"text","fontSize":19,"color":"#0000ff","align":"left","baseline":"middle","font":"Liberation Sans"},
"encoding":{
"x":{"field":"x","type":"quantitative","scale":{"domain":[0,1],"nice":false,"zero":false},"axis":{"values":[0,0.5,1],"tickSize":-12,"labelPadding":23,"format":"~g","title":null}},
"y":{"field":"f","type":"quantitative","scale":{"domain":[1069.4,2979.7],"nice":false,"zero":false},"axis":{"values":[1200,1400,1600,1800,2000,2200,2400,2600,2800],"tickSize":-12,"labelPadding":20,"format":"d","title":null}},
"text":{"field":"label"}
}
},
{
"width":2112,"height":1145,
"view":{"stroke":"#262626","strokeWidth":1.3},
"title":{"text":"D9_G21_M1_A1_T1_firstB_dtw_4 bayaatEsfahaan_bayaatRaaje_part11.jpg","fontSize":23.5,"fontWeight":"bold","color":"#000000","font":"Liberation Sans","offset":3,"anchor":"middle","dx":-11},
"resolve":{"axis":{"x":"independent","y":"independent"},"scale":{"color":"independent"}},
"layer":[
{"data":{"name":"levels"},"mark":{"type":"rule","strokeWidth":1.8},
"encoding":{"y":{"field":"f","type":"quantitative","scale":{"domain":[1069.4,2979.7],"nice":false,"zero":false},"axis":null},
"color":{"field":"kind","type":"nominal","scale":{"domain":["note","cyan","red","olive"],"range":["#4646d6","#7df5f5","#d62020","#9c9a52"]},"legend":null}}},
{"data":{"name":"steps"},"mark":{"type":"line","interpolate":"step-after","color":"#5a9fd4","strokeWidth":2,"clip":true},
"encoding":{"x":{"field":"t","type":"quantitative","scale":{"domain":[14791.4,16581.2],"nice":false,"zero":false},"axis":{"orient":"bottom","values":[14800,15000,15200,15400,15600,15800,16000,16200,16400],"tickSize":-22,"labelPadding":33,"labelExpr":"format(datum.value/10000,'.2~f')","title":"×10⁴","titleAnchor":"end","titleFontSize":24,"titlePadding":10}},
"y":{"field":"f","type":"quantitative","scale":{"domain":[1069.4,2979.7],"nice":false,"zero":false},"axis":{"orient":"left","values":[1200,1400,1600,1800,2000,2200,2400,2600,2800],"tickSize":-22,"labelPadding":31,"format":"d","title":null}}}},
{"data":{"name":"notes"},"mark":{"type":"rule","strokeWidth":7,"strokeCap":"butt"},
"encoding":{"x":{"field":"t","type":"quantitative","scale":{"domain":[14791.4,16581.2],"nice":false,"zero":false},"axis":null},"x2":{"field":"t2"},
"y":{"field":"f","type":"quantitative","scale":{"domain":[1069.4,2979.7],"nice":false,"zero":false},"axis":null},
"color":{"field":"kind","type":"nominal","scale":{"domain":["c","b","y"],"range":["#2f7490","#2a96d6","#d2d22c"]},"legend":null}}},
{"data":{"values":[{"f":2674}]},"mark":{"type":"rule","color":"#2a2ae6","strokeWidth":2,"strokeDash":[9,7]},
"encoding":{"y":{"field":"f","type":"quantitative","scale":{"domain":[1069.4,2979.7],"nice":false,"zero":false},"axis":null}}},
{"data":{"name":"pitch"},"mark":{"type":"line","color":"#3a3a3a","strokeWidth":1.3,"clip":true},
"encoding":{"x":{"field":"t","type":"quantitative","scale":{"domain":[14791.4,16581.2],"nice":false,"zero":false},"axis":{"orient":"top","values":[14800,15000,15200,15400,15600,15800,16000,16200,16400],"tickSize":-22,"labels":false,"domain":false,"title":null}},
"y":{"field":"f","type":"quantitative","scale":{"domain":[1069.4,2979.7],"nice":false,"zero":false},"axis":{"orient":"right","values":[1200,1400,1600,1800,2000,2200,2400,2600,2800],"tickSize":-22,"labels":false,"domain":false,"title":null}}}},
{"data":{"name":"pitch"},"transform":[{"filter":{"field":"c","equal":"b"}}],"mark":{"type":"line","color":"#000000","strokeWidth":6,"strokeCap":"round","strokeJoin":"round"},
"encoding":{"x":{"field":"t","type":"quantitative","scale":{"domain":[14791.4,16581.2],"nice":false,"zero":false},"axis":null},
"y":{"field":"f","type":"quantitative","scale":{"domain":[1069.4,2979.7],"nice":false,"zero":false},"axis":null},"detail":{"field":"s","type":"nominal"}}},
{"data":{"name":"pitch"},"transform":[{"filter":{"field":"c","equal":"v"}}],"mark":{"type":"line","color":"#ff0000","strokeWidth":7,"strokeCap":"round","strokeJoin":"round"},
"encoding":{"x":{"field":"t","type":"quantitative","scale":{"domain":[14791.4,16581.2],"nice":false,"zero":false},"axis":null},
"y":{"field":"f","type":"quantitative","scale":{"domain":[1069.4,2979.7],"nice":false,"zero":false},"axis":null},"detail":{"field":"s","type":"nominal"}}},
{"data":{"name":"pitch"},"transform":[{"filter":{"field":"c","equal":"k"}}],"mark":{"type":"point","shape":"circle","filled":true,"size":30,"color":"#000000","opacity":1},
"encoding":{"x":{"field":"t","type":"quantitative","scale":{"domain":[14791.4,16581.2],"nice":false,"zero":false},"axis":null},
"y":{"field":"f","type":"quantitative","scale":{"domain":[1069.4,2979.7],"nice":false,"zero":false},"axis":null}}},
{"data":{"name":"pitch"},"transform":[{"filter":{"field":"c","equal":"r"}}],"mark":{"type":"point","shape":"circle","filled":true,"size":30,"color":"#ff0000","opacity":1},
"encoding":{"x":{"field":"t","type":"quantitative","scale":{"domain":[14791.4,16581.2],"nice":false,"zero":false},"axis":null},
"y":{"field":"f","type":"quantitative","scale":{"domain":[1069.4,2979.7],"nice":false,"zero":false},"axis":null}}},
{"data":{"values":[{"t":15109,"f":1076}]},"mark":{"type":"point","shape":"circle","filled":true,"size":45,"color":"#ff0000","opacity":1},
"encoding":{"x":{"field":"t","type":"quantitative","scale":{"domain":[14791.4,16581.2],"nice":false,"zero":false},"axis":null},
"y":{"field":"f","type":"quantitative","scale":{"domain":[1069.4,2979.7],"nice":false,"zero":false},"axis":null}}}
]
}
]
}
